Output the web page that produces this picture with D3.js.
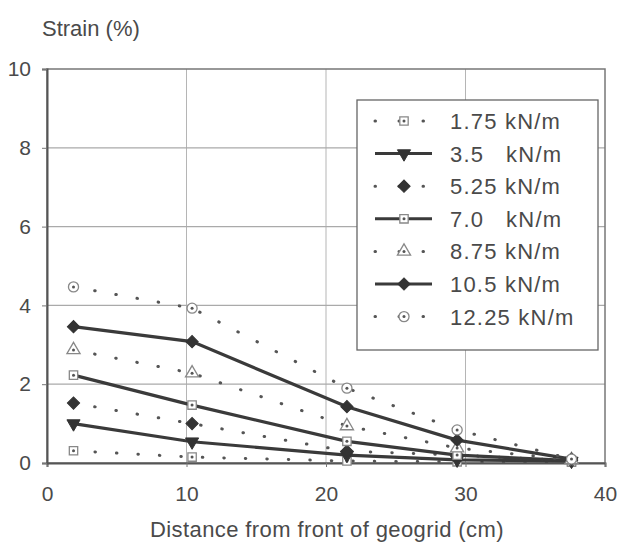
<!DOCTYPE html>
<html>
<head>
<meta charset="utf-8">
<script src="https://cdn.jsdelivr.net/npm/d3@7"></script>
<style>
  body { margin: 0; background: #fff; }
  text { font-family: "Liberation Sans", Arial, sans-serif; fill: #4a4a4a; }
</style>
</head>
<body>
<div id="chart"></div>
<script>
// data
var distance = [1.9, 10.4, 21.5, 29.4, 37.6];
var loadLabels = ["1.75 kN/m", "3.5   kN/m", "5.25 kN/m", "7.0   kN/m", "8.75 kN/m", "10.5 kN/m", "12.25 kN/m"];
var strain175 = [0.31, 0.15, 0.05, 0.03, 0.02];
var strain350 = [1.0, 0.54, 0.2, 0.08, 0.05];
var strain525 = [1.52, 1.0, 0.3, 0.2, 0.06];
var strain700 = [2.23, 1.47, 0.55, 0.2, 0.06];
var strain875 = [2.87, 2.28, 0.94, 0.38, 0.08];
var strain1050 = [3.46, 3.08, 1.43, 0.58, 0.1];
var strain1225 = [4.47, 3.93, 1.9, 0.84, 0.1];
var xTicks = [0, 10, 20, 30, 40];
var yTicks = [0, 2, 4, 6, 8, 10];

var series = [
  { name: loadLabels[0], values: strain175, dotted: true, marker: "square", fill: "none" },
  { name: loadLabels[1], values: strain350, dotted: false, marker: "tridown", fill: "#333" },
  { name: loadLabels[2], values: strain525, dotted: true, marker: "diamond", fill: "#333" },
  { name: loadLabels[3], values: strain700, dotted: false, marker: "square", fill: "none" },
  { name: loadLabels[4], values: strain875, dotted: true, marker: "triangle", fill: "none" },
  { name: loadLabels[5], values: strain1050, dotted: false, marker: "diamond", fill: "#333" },
  { name: loadLabels[6], values: strain1225, dotted: true, marker: "circle", fill: "none" }
];

var W = 618, H = 542;
var margin = { top: 69, right: 13, bottom: 79, left: 47 },
  width = W - margin.left - margin.right,
  height = H - margin.top - margin.bottom;

var svg = d3.select("#chart").append("svg")
  .attr("width", W).attr("height", H);
var g = svg.append("g")
  .attr("transform", "translate(" + margin.left + "," + margin.top + ")");

var x = d3.scaleLinear().domain([0, 40]).range([0, width]);
var y = d3.scaleLinear().domain([0, 10]).range([height, 0]);

// gridlines
g.selectAll(".vgrid").data(xTicks.slice(1, 4)).enter().append("line")
  .attr("x1", function (d) { return x(d); }).attr("x2", function (d) { return x(d); })
  .attr("y1", 0).attr("y2", height)
  .attr("stroke", "#b5b5b5").attr("stroke-width", 1);
g.selectAll(".hgrid").data(yTicks.slice(1, 5)).enter().append("line")
  .attr("x1", 0).attr("x2", width)
  .attr("y1", function (d) { return y(d); }).attr("y2", function (d) { return y(d); })
  .attr("stroke", "#aaa").attr("stroke-width", 1.3);

// plot frame
g.append("rect").attr("width", width).attr("height", height)
  .attr("fill", "none").attr("stroke", "#777").attr("stroke-width", 1.5);

// axes
var xAxis = g.append("g").attr("transform", "translate(0," + height + ")")
  .call(d3.axisBottom(x).tickValues(xTicks).tickSize(4).tickPadding(19).tickFormat(d3.format("d")));
var yAxis = g.append("g")
  .call(d3.axisLeft(y).tickValues(yTicks).tickSize(5).tickPadding(11).tickFormat(d3.format("d")));
[xAxis, yAxis].forEach(function (a) {
  a.select(".domain").attr("stroke", "#555").attr("stroke-width", 2);
  a.selectAll(".tick line").attr("stroke", "#777");
  a.selectAll(".tick text").style("font-size", "21px").attr("fill", "#5a5a5a");
});

// markers
function markerPath(type) {
  var sym = {
    square: d3.symbolSquare, circle: d3.symbolCircle, diamond: d3.symbolSquare,
    triangle: d3.symbolTriangle, tridown: d3.symbolTriangle
  }[type];
  var size = { square: 70, circle: 80, diamond: 75, triangle: 75, tridown: 75 }[type];
  return d3.symbol().type(sym).size(size)();
}
function drawMarker(sel, s) {
  var rot = s.marker === "tridown" ? "rotate(180)" : s.marker === "diamond" ? "rotate(45)" : null;
  sel.append("path")
    .attr("d", markerPath(s.marker))
    .attr("transform", rot)
    .attr("fill", s.fill === "none" ? "#fff" : s.fill)
    .attr("stroke", s.fill === "none" ? "#888" : "#333")
    .attr("stroke-width", s.fill === "none" ? 1.3 : 1);
  if (s.fill === "none") {
    sel.append("circle").attr("r", 1.5).attr("fill", "#555");
  }
}

var line = d3.line()
  .x(function (d, i) { return x(distance[i]); })
  .y(function (d) { return y(d); });

series.forEach(function (s) {
  g.append("path").datum(s.values)
    .attr("fill", "none")
    .attr("stroke", s.dotted ? "#555" : "#3a3a3a")
    .attr("stroke-width", s.dotted ? 3 : 3.2)
    .attr("stroke-linecap", s.dotted ? "round" : "butt")
    .attr("stroke-dasharray", s.dotted ? "0.5 21" : null)
    .attr("d", line);
  s.values.forEach(function (v, i) {
    var m = g.append("g").attr("transform", "translate(" + x(distance[i]) + "," + y(v) + ")");
    drawMarker(m, s);
  });
});

// legend
var lg = svg.append("g").attr("transform", "translate(357,100)");
lg.append("rect").attr("width", 241).attr("height", 250)
  .attr("fill", "#fff").attr("stroke", "#666").attr("stroke-width", 1.3);
series.forEach(function (s, i) {
  var row = lg.append("g").attr("transform", "translate(0," + (21 + i * 32.6) + ")");
  row.append("line").attr("x1", 18).attr("x2", 75).attr("y1", 0).attr("y2", 0)
    .attr("stroke", s.dotted ? "#555" : "#3a3a3a")
    .attr("stroke-width", 3)
    .attr("stroke-linecap", s.dotted ? "round" : "butt")
    .attr("stroke-dasharray", s.dotted ? "0.5 23.5" : null);
  var m = row.append("g").attr("transform", "translate(47,0)");
  drawMarker(m, s);
  row.append("text").attr("x", 93).attr("y", 8)
    .attr("xml:space", "preserve").style("white-space", "pre")
    .style("font-size", "22px").style("letter-spacing", "1.2px").text(s.name);
});

// titles
svg.append("text").attr("x", 42).attr("y", 36).style("font-size", "22px").text("Strain (%)");
svg.append("text").attr("x", 327).attr("y", 537).attr("text-anchor", "middle")
  .style("font-size", "22px").style("letter-spacing", "0.4px")
  .text("Distance from front of geogrid (cm)");
</script>
</body>
</html>
